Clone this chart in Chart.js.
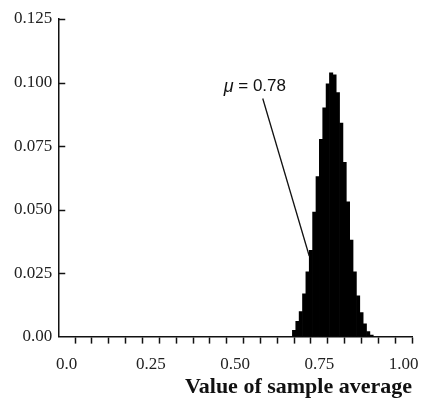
<!DOCTYPE html>
<html>
<head>
<meta charset="utf-8">
<script src="https://cdn.jsdelivr.net/npm/chart.js@4.4.1/dist/chart.umd.min.js"></script>
<style>
  html, body { margin: 0; padding: 0; background: #fff; }
  #wrap { width: 432px; height: 402px; }
</style>
</head>
<body>
<div id="wrap"><canvas id="hist"></canvas></div>
<script>
// left edges of the 0.01-wide bins
const binLeft = [0.67, 0.68, 0.69, 0.70, 0.71, 0.72, 0.73, 0.74, 0.75, 0.76, 0.77, 0.78,
                 0.79, 0.80, 0.81, 0.82, 0.83, 0.84, 0.85, 0.86, 0.87, 0.88, 0.89, 0.90];
// probability for each bin
const probs = [0.0025, 0.0060, 0.0098, 0.0168, 0.0255, 0.0340, 0.0490, 0.0630, 0.0776, 0.0900, 0.0995, 0.1038,
               0.1030, 0.0960, 0.0840, 0.0686, 0.0530, 0.0380, 0.0255, 0.0160, 0.0095, 0.0050, 0.0020, 0.0006];
const binWidth = 0.01;
const xLabels = ['0.0', '0.25', '0.50', '0.75', '1.00'];
const yLabels = ['0.00', '0.025', '0.050', '0.075', '0.100', '0.125'];
const meanLabel = '0.78';
// where the mean note sits, in data units
const notePos = { x: 0.466, y: 0.0984 };
const arrowFrom = { x: 0.582, y: 0.0937 };
const arrowTo = { x: 0.72, y: 0.0317 };

const serif = '"Liberation Serif", "DejaVu Serif", serif';

const points = binLeft.map((l, i) => ({ x: l + binWidth / 2, y: probs[i] }));

// inward y tick marks + the mu note with its pointer line
const extras = {
  id: 'extras',
  afterDraw(chart) {
    const { ctx, scales: { x, y } } = chart;
    ctx.save();
    ctx.strokeStyle = '#111';
    ctx.lineWidth = 1.5;
    y.ticks.forEach(t => {
      if (t.value === 0) return;
      const py = Math.round(y.getPixelForValue(t.value)) + 0.5;
      ctx.beginPath();
      ctx.moveTo(x.left, py);
      ctx.lineTo(x.left + 7, py);
      ctx.stroke();
    });

    // pointer line
    ctx.lineWidth = 1.3;
    ctx.beginPath();
    ctx.moveTo(x.getPixelForValue(arrowFrom.x), y.getPixelForValue(arrowFrom.y));
    ctx.lineTo(x.getPixelForValue(arrowTo.x), y.getPixelForValue(arrowTo.y));
    ctx.stroke();

    // note text
    let tx = x.getPixelForValue(notePos.x);
    const ty = y.getPixelForValue(notePos.y);
    ctx.fillStyle = '#111';
    ctx.textBaseline = 'middle';
    ctx.textAlign = 'left';
    ctx.font = 'italic 18px "Liberation Sans", sans-serif';
    ctx.fillText('\u03bc', tx, ty);
    tx += ctx.measureText('\u03bc').width;
    ctx.font = '17px "Liberation Sans", sans-serif';
    ctx.fillText(' = ' + meanLabel, tx, ty);
    ctx.restore();
  }
};

new Chart(document.getElementById('hist'), {
  type: 'bar',
  data: {
    datasets: [{
      data: points,
      backgroundColor: '#000',
      borderWidth: 0,
      barPercentage: 1,
      categoryPercentage: 1
    }]
  },
  options: {
    responsive: true,
    maintainAspectRatio: false,
    animation: false,
    layout: { padding: { top: 19, right: 20, left: 8, bottom: 0 } },
    plugins: {
      legend: { display: false },
      tooltip: { enabled: false }
    },
    scales: {
      x: {
        type: 'linear',
        min: 0,
        max: 1,
        grid: {
          display: true,
          drawOnChartArea: false,
          drawTicks: true,
          tickLength: 7,
          tickWidth: 1.5,
          color: ctx => (ctx.tick && ctx.tick.value === 0 ? 'rgba(0,0,0,0)' : '#111')
        },
        border: { display: true, color: '#111', width: 1.5 },
        ticks: {
          stepSize: 0.05,
          autoSkip: false,
          maxRotation: 0,
          padding: 11,
          color: '#222',
          font: { family: serif, size: 17 },
          callback: v => {
            const k = Math.round(v * 4);
            return Math.abs(v * 4 - k) < 1e-6 ? xLabels[k] : '';
          }
        },
        title: {
          display: true,
          text: 'Value of sample average',
          align: 'end',
          color: '#111',
          font: { family: serif, size: 22, weight: 'bold', lineHeight: 1.0 },
          padding: { top: -10, bottom: 4 }
        }
      },
      y: {
        min: 0,
        max: 0.125,
        grid: { display: false, drawTicks: false },
        border: { display: true, color: '#111', width: 1.5 },
        ticks: {
          stepSize: 0.025,
          padding: 6,
          color: '#222',
          font: { family: serif, size: 17 },
          callback: v => yLabels[Math.round(v / 0.025)]
        }
      }
    }
  },
  plugins: [extras]
});
</script>
</body>
</html>
